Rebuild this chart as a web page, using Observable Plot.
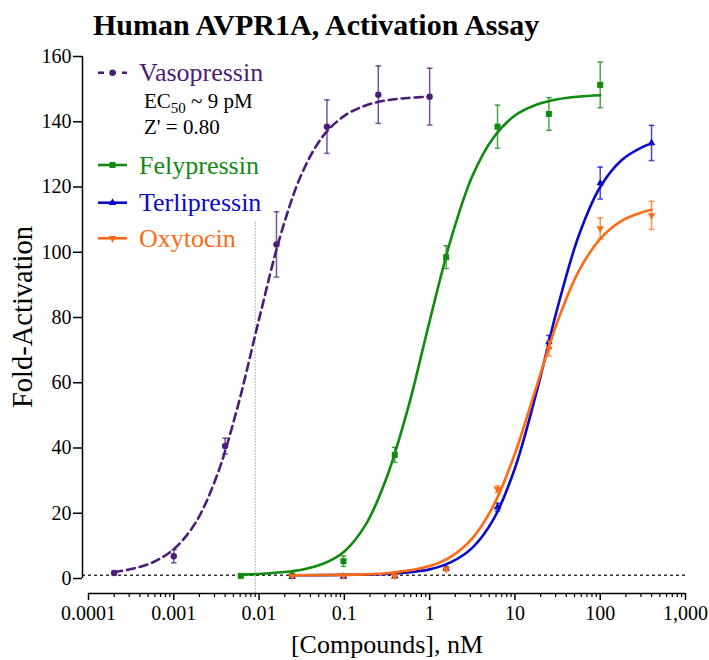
<!DOCTYPE html>
<html><head><meta charset="utf-8">
<script src="https://cdn.jsdelivr.net/npm/d3@7"></script>
<script src="https://cdn.jsdelivr.net/npm/@observablehq/plot@0.6"></script>
<style>body{margin:0;background:#fff} #chart{width:709px;height:660px;position:relative}</style>
</head><body><div id="chart"></div>
<script>
const FONT = "'Liberation Serif','Times New Roman',serif";

// ---------- data ----------
const seriesNames  = ["Vasopressin", "Felypressin", "Terlipressin", "Oxytocin"];
const seriesColors = ["#4b1c78", "#128a12", "#0a0ac8", "#ff6a14"];
const seriesSymbols = ["circle", "square", "triangle", "triangle-down"];

// measured points (concentration nM, fold activation, error)
const vasoX = [0.0002, 0.001, 0.004, 0.016, 0.0625, 0.25, 1];
const vasoY = [1.7, 6.8, 40.6, 102.4, 138.5, 148.3, 147.7];
const vasoE = [0.5, 2.0, 2.4, 10.0, 8.2, 8.8, 8.7];

const felyX = [0.0061, 0.0244, 0.0977, 0.39, 1.5625, 6.25, 25, 100];
const felyY = [0.8, 0.9, 5.3, 37.9, 98.5, 138.5, 142.4, 151.3];
const felyE = [0.3, 0.3, 1.6, 2.3, 3.5, 6.6, 5.0, 7.0];

const terlX = [0.0244, 0.0977, 0.39, 1.5625, 6.25, 25, 100, 400];
const terlY = [0.6, 0.6, 0.7, 3.1, 21.9, 72.5, 121.2, 133.5];
const terlE = [0.3, 0.3, 0.3, 0.5, 1.2, 2.0, 4.9, 5.4];

const oxyX = [0.0244, 0.0977, 0.39, 1.5625, 6.25, 25, 100, 400];
const oxyY = [0.8, 0.9, 0.8, 2.9, 27.4, 70.5, 107.3, 111.3];
const oxyE = [0.3, 0.3, 0.3, 0.5, 1.0, 2.3, 3.2, 4.3];

// fitted curves
const vasoFitX = [0.0002, 0.000316, 0.000562, 0.001, 0.00178, 0.00316, 0.00562, 0.01, 0.0178, 0.0316, 0.0562, 0.1, 0.178, 0.316, 0.562, 1];
const vasoFitY = [2.0, 2.9, 4.9, 9.0, 16.9, 31.1, 52.7, 79.5, 105.1, 124.0, 135.6, 141.8, 145.0, 146.6, 147.3, 147.7];

const felyFitX = [0.0061, 0.01, 0.0178, 0.0316, 0.0562, 0.1, 0.178, 0.316, 0.562, 1, 1.78, 3.16, 5.62, 10, 17.8, 31.6, 56.2, 100];
const felyFitY = [1.2, 1.4, 1.9, 2.7, 4.5, 8.3, 16.5, 31.2, 52.5, 78.9, 104.1, 123.3, 135.2, 141.9, 145.2, 146.9, 147.7, 148.1];

const terlFitX = [0.0244, 0.1, 0.316, 1, 1.78, 3.16, 5.62, 10, 17.8, 31.6, 56.2, 100, 178, 316, 400];
const terlFitY = [1.0, 1.1, 1.4, 2.8, 5.0, 9.4, 18.2, 33.8, 56.8, 83.0, 105.2, 120.0, 128.2, 132.3, 133.3];

const oxyFitX = [0.0244, 0.1, 0.316, 1, 1.78, 3.16, 5.62, 10, 17.8, 31.6, 56.2, 100, 178, 316, 400];
const oxyFitY = [1.0, 1.15, 1.6, 3.8, 6.7, 12.3, 22.4, 38.3, 58.6, 78.8, 94.3, 104.1, 109.6, 112.3, 113.0];

const baselineY = [1];
const ec50X = [0.009];
const ec50Top = 109;

const yTicks = [0, 20, 40, 60, 80, 100, 120, 140, 160];
const xMajor = [0.0001, 0.001, 0.01, 0.1, 1, 10, 100, 1000];
const xLabels = ["0.0001", "0.001", "0.01", "0.1", "1", "10", "100", "1,000"];
const xMinor = [];
xMajor.slice(0, -1).forEach(d => { for (let k = 2; k <= 9; k++) xMinor.push(+(d * k).toPrecision(6)); });

const titleText = "Human AVPR1A, Activation Assay";
const yLabel = "Fold-Activation";
const xLabel = "[Compounds], nM";

// ---------- build tables ----------
const zip = (xs, ys, es) => xs.map((x, i) => ({x, y: ys[i], lo: ys[i] - (es ? es[i] : 0), hi: ys[i] + (es ? es[i] : 0)}));
const pts = [zip(vasoX, vasoY, vasoE), zip(felyX, felyY, felyE), zip(terlX, terlY, terlE), zip(oxyX, oxyY, oxyE)];
const fits = [zip(vasoFitX, vasoFitY), zip(felyFitX, felyFitY), zip(terlFitX, terlFitY), zip(oxyFitX, oxyFitY)];

const capSymbol = {draw(ctx, size) { const h = Math.sqrt(size / Math.PI); ctx.moveTo(-h, 0); ctx.lineTo(h, 0); }};
const labelMap = new Map(xMajor.map((d, i) => [d, xLabels[i]]));

const marks = [
  Plot.ruleY(baselineY, {stroke: "#333", strokeWidth: 1.3, strokeDasharray: "3,3"}),
  Plot.ruleX(ec50X, {y1: ec50Top, y2: 0, insetBottom: -15, stroke: "#666", strokeWidth: 1, strokeDasharray: "1,2"}),
  Plot.ruleX([xMajor[0]], {y1: 0, y2: 160, dx: -6, stroke: "#000", strokeWidth: 1.5}),
  Plot.ruleY([0], {x1: xMajor[0], x2: xMajor[xMajor.length - 1], dy: 15, stroke: "#000", strokeWidth: 1.5}),
  Plot.axisY({ticks: yTicks, tickSize: 9, tickPadding: 2, fontSize: 20, label: null, strokeWidth: 1.5}),
  Plot.axisX({ticks: xMajor, tickSize: 7, tickPadding: 5, fontSize: 20, label: null, strokeWidth: 1.5, tickFormat: d => labelMap.get(d) ?? ""}),
  Plot.axisX({ticks: xMinor, tickSize: 4, fontSize: 20, label: null, strokeWidth: 1.2, tickFormat: () => ""})
];

seriesNames.forEach((name, s) => {
  const c = seriesColors[s];
  marks.push(Plot.line(fits[s], {x: "x", y: "y", stroke: c, strokeWidth: 2.6, curve: "catmull-rom",
    strokeDasharray: s === 0 ? "8,5" : null}));
  marks.push(Plot.ruleX(pts[s], {x: "x", y1: "lo", y2: "hi", stroke: c, strokeWidth: 1.5, strokeOpacity: 0.75}));
  marks.push(Plot.dot(pts[s], {x: "x", y: "hi", symbol: capSymbol, r: 2.8, stroke: c, strokeWidth: 1.5, strokeOpacity: 0.75}));
  marks.push(Plot.dot(pts[s], {x: "x", y: "lo", symbol: capSymbol, r: 2.8, stroke: c, strokeWidth: 1.5, strokeOpacity: 0.75}));
  const sym = seriesSymbols[s];
  marks.push(Plot.dot(pts[s], {x: "x", y: "y", fill: c, stroke: "none",
    symbol: sym === "triangle-down" ? "triangle" : sym,
    rotate: sym === "triangle-down" ? 180 : 0,
    r: sym === "circle" ? 3.2 : sym === "square" ? 3.4 : 2.8}));
});

const plot = Plot.plot({
  width: 709, height: 660,
  marginLeft: 82, marginRight: 24, marginTop: 56, marginBottom: 67,
  style: {fontFamily: FONT, fontSize: "20px", background: "#fff", color: "#000"},
  x: {type: "log", domain: [1e-4, 1e3], range: [88, 685]},
  y: {domain: [0, 160], range: [578, 56]},
  marks
});
document.getElementById("chart").appendChild(plot);

// ---------- titles & legend ----------
const svg = d3.select(plot);
const addText = (sel, size, anchor) => sel.append("text").style("font-family", FONT).style("font-size", size + "px")
  .style("text-anchor", anchor).attr("text-anchor", anchor);
addText(svg, 30, "start").attr("x", 93).attr("y", 35).style("font-weight", "bold").attr("fill", "#000").text(titleText);
addText(svg, 28.5, "middle").attr("transform", "translate(32,317) rotate(-90)").attr("fill", "#000").text(yLabel);
addText(svg, 26, "middle").attr("x", 387).attr("y", 653).attr("fill", "#000").text(xLabel);

const legendLineY = [72.7, 165, 202.7, 238.3];
const lg = svg.append("g");
const symMap = {circle: [d3.symbolCircle, 3.2], square: [d3.symbolSquare, 3.4], triangle: [d3.symbolTriangle, 2.8], "triangle-down": [d3.symbolTriangle, 2.8]};
seriesNames.forEach((name, s) => {
  const y = legendLineY[s], c = seriesColors[s];
  lg.append("line").attr("x1", 98).attr("x2", 127).attr("y1", y).attr("y2", y)
    .attr("stroke", c).attr("stroke-width", 2.6).attr("stroke-dasharray", s === 0 ? "6,6" : null);
  const [t, r] = symMap[seriesSymbols[s]];
  lg.append("path").attr("d", d3.symbol(t, Math.PI * r * r)())
    .attr("transform", `translate(112.5,${y}) rotate(${seriesSymbols[s] === "triangle-down" ? 180 : 0})`)
    .attr("fill", c);
  addText(lg, 26, "start").attr("x", 139).attr("y", y + 8.5).attr("fill", c).text(name);
});
const ec = addText(lg, 21, "start").attr("x", 144).attr("y", 108).attr("fill", "#000");
ec.append("tspan").text("EC");
ec.append("tspan").style("font-size", "15px").attr("dy", 5).text("50");
ec.append("tspan").attr("dy", -5).text(" ~ 9 pM");
addText(lg, 21, "start").attr("x", 144).attr("y", 134).attr("fill", "#000").text("Z' = 0.80");
</script>
</body></html>
